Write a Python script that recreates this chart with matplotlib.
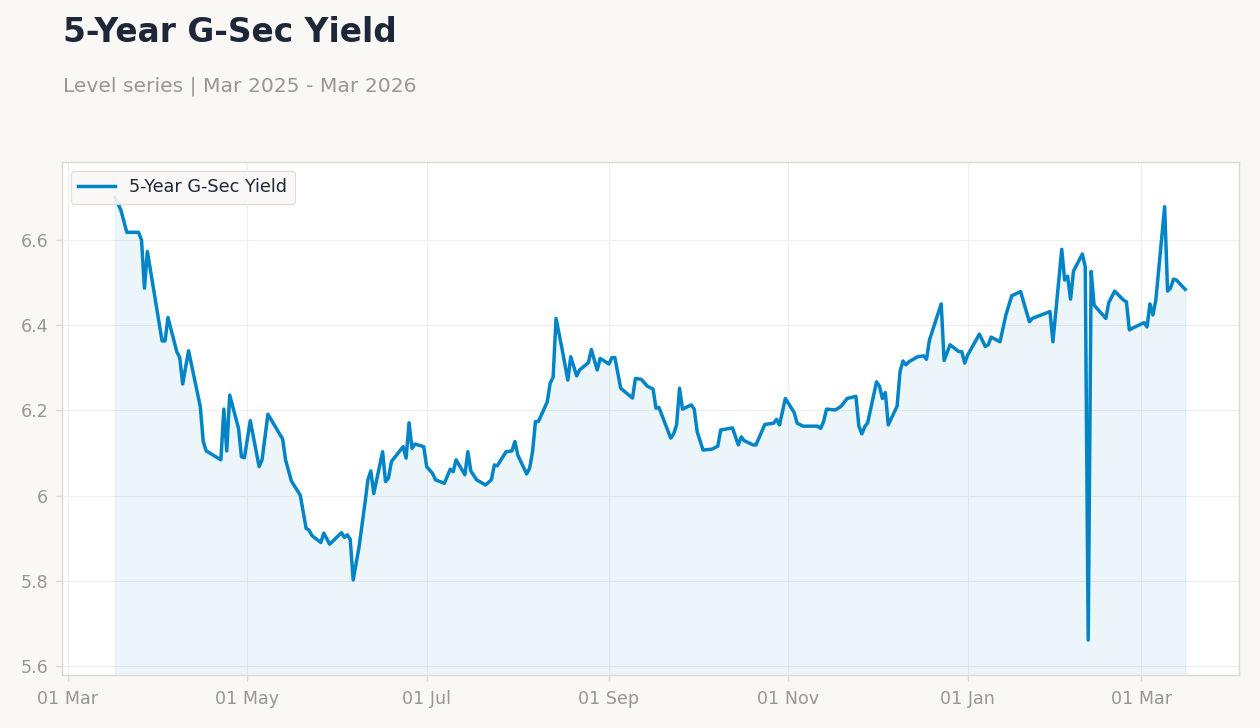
import matplotlib
matplotlib.use("Agg")
import matplotlib.pyplot as plt
import matplotlib.dates as mdates
from matplotlib.ticker import FuncFormatter, FixedLocator
import pandas as pd

title = "5-Year G-Sec Yield"
subtitle = "Level series | Mar 2025 - Mar 2026"
series_name = "5-Year G-Sec Yield"

dates = [
    "2025-03-17", "2025-03-19", "2025-03-21", "2025-03-25", "2025-03-26", "2025-03-27", "2025-03-28",
    "2025-04-02", "2025-04-03", "2025-04-04", "2025-04-07", "2025-04-08", "2025-04-09", "2025-04-11",
    "2025-04-15", "2025-04-16", "2025-04-17", "2025-04-22", "2025-04-23", "2025-04-24", "2025-04-25",
    "2025-04-28", "2025-04-29", "2025-04-30", "2025-05-02", "2025-05-05", "2025-05-06", "2025-05-08",
    "2025-05-13", "2025-05-14", "2025-05-16", "2025-05-19", "2025-05-21", "2025-05-22", "2025-05-23",
    "2025-05-26", "2025-05-27", "2025-05-29", "2025-06-02", "2025-06-03", "2025-06-04", "2025-06-05",
    "2025-06-06", "2025-06-08", "2025-06-10", "2025-06-11", "2025-06-12", "2025-06-13", "2025-06-16",
    "2025-06-17", "2025-06-18", "2025-06-19", "2025-06-23", "2025-06-24", "2025-06-25", "2025-06-26",
    "2025-06-27", "2025-06-30", "2025-07-01", "2025-07-03", "2025-07-04", "2025-07-07", "2025-07-09",
    "2025-07-10", "2025-07-11", "2025-07-14", "2025-07-15", "2025-07-16", "2025-07-18", "2025-07-21",
    "2025-07-23", "2025-07-24", "2025-07-25", "2025-07-28", "2025-07-30", "2025-07-31", "2025-08-01",
    "2025-08-04", "2025-08-05", "2025-08-06", "2025-08-07", "2025-08-08", "2025-08-11", "2025-08-12",
    "2025-08-13", "2025-08-14", "2025-08-16", "2025-08-18", "2025-08-19", "2025-08-21", "2025-08-22",
    "2025-08-25", "2025-08-26", "2025-08-28", "2025-08-29", "2025-09-01", "2025-09-02", "2025-09-03",
    "2025-09-05", "2025-09-09", "2025-09-10", "2025-09-12", "2025-09-14", "2025-09-16", "2025-09-17",
    "2025-09-18", "2025-09-22", "2025-09-23", "2025-09-24", "2025-09-25", "2025-09-26", "2025-09-29",
    "2025-09-30", "2025-10-01", "2025-10-03", "2025-10-06", "2025-10-08", "2025-10-09", "2025-10-13",
    "2025-10-15", "2025-10-16", "2025-10-17", "2025-10-20", "2025-10-21", "2025-10-24", "2025-10-27",
    "2025-10-28", "2025-10-29", "2025-10-31", "2025-11-03", "2025-11-04", "2025-11-06", "2025-11-11",
    "2025-11-12", "2025-11-13", "2025-11-14", "2025-11-17", "2025-11-19", "2025-11-21", "2025-11-24",
    "2025-11-25", "2025-11-26", "2025-11-27", "2025-11-28", "2025-12-01", "2025-12-02", "2025-12-03",
    "2025-12-04", "2025-12-05", "2025-12-08", "2025-12-09", "2025-12-10", "2025-12-11", "2025-12-12",
    "2025-12-15", "2025-12-17", "2025-12-18", "2025-12-19", "2025-12-23", "2025-12-24", "2025-12-26",
    "2025-12-29", "2025-12-30", "2025-12-31", "2026-01-01", "2026-01-05", "2026-01-07", "2026-01-08",
    "2026-01-09", "2026-01-12", "2026-01-14", "2026-01-16", "2026-01-19", "2026-01-20", "2026-01-22",
    "2026-01-23", "2026-01-29", "2026-01-30", "2026-02-02", "2026-02-03", "2026-02-04", "2026-02-05",
    "2026-02-06", "2026-02-09", "2026-02-10", "2026-02-11", "2026-02-12", "2026-02-13", "2026-02-17",
    "2026-02-18", "2026-02-20", "2026-02-23", "2026-02-24", "2026-02-25", "2026-02-26", "2026-03-02",
    "2026-03-03", "2026-03-04", "2026-03-05", "2026-03-06", "2026-03-09", "2026-03-10", "2026-03-11",
    "2026-03-12", "2026-03-13", "2026-03-16",
]

yields = [
    6.700, 6.670, 6.618, 6.618, 6.600, 6.487, 6.573,
    6.363, 6.363, 6.418, 6.338, 6.324, 6.262, 6.340,
    6.209, 6.127, 6.105, 6.084, 6.203, 6.105, 6.236,
    6.158, 6.091, 6.089, 6.176, 6.068, 6.084, 6.191,
    6.133, 6.084, 6.034, 6.001, 5.923, 5.919, 5.906,
    5.890, 5.912, 5.886, 5.913, 5.902, 5.908, 5.897,
    5.802, 5.880, 5.982, 6.037, 6.058, 6.005, 6.103,
    6.033, 6.041, 6.080, 6.115, 6.088, 6.171, 6.111,
    6.121, 6.115, 6.068, 6.052, 6.037, 6.029, 6.062,
    6.056, 6.084, 6.049, 6.103, 6.058, 6.037, 6.025,
    6.037, 6.072, 6.070, 6.103, 6.105, 6.127, 6.095,
    6.051, 6.064, 6.103, 6.174, 6.174, 6.220, 6.264,
    6.278, 6.416, 6.346, 6.271, 6.326, 6.281, 6.295,
    6.312, 6.343, 6.295, 6.322, 6.309, 6.324, 6.324,
    6.252, 6.229, 6.275, 6.273, 6.257, 6.250, 6.205,
    6.207, 6.135, 6.145, 6.166, 6.252, 6.203, 6.213,
    6.203, 6.150, 6.107, 6.109, 6.116, 6.154, 6.159,
    6.119, 6.138, 6.129, 6.119, 6.119, 6.167, 6.170,
    6.179, 6.166, 6.228, 6.195, 6.170, 6.163, 6.163,
    6.158, 6.174, 6.203, 6.201, 6.210, 6.228, 6.233,
    6.163, 6.145, 6.162, 6.171, 6.267, 6.257, 6.228,
    6.242, 6.166, 6.210, 6.291, 6.316, 6.307, 6.314,
    6.326, 6.328, 6.320, 6.365, 6.450, 6.317, 6.354,
    6.338, 6.338, 6.311, 6.330, 6.379, 6.350, 6.354,
    6.372, 6.361, 6.424, 6.469, 6.479, 6.455, 6.408,
    6.416, 6.432, 6.361, 6.578, 6.506, 6.515, 6.461,
    6.527, 6.567, 6.537, 5.661, 6.526, 6.447, 6.416,
    6.453, 6.480, 6.459, 6.455, 6.389, 6.393, 6.406,
    6.396, 6.450, 6.424, 6.459, 6.678, 6.480, 6.487,
    6.508, 6.506, 6.484,
]

x_ticks = ["2025-03-01", "2025-05-01", "2025-07-01", "2025-09-01", "2025-11-01", "2026-01-01", "2026-03-01"]
y_ticks = [5.6, 5.8, 6.0, 6.2, 6.4, 6.6]

LINE = "#0284C7"
BG = "#F9F8F5"
TXT = "#1E2738"
MUTED = "#9A9690"
EDGE = "#DDD8D0"
GRID = "#EFEFEF"

plt.rcParams['font.family'] = ['DejaVu Sans']

fig = plt.figure(figsize=(12.6, 7.28), dpi=100, facecolor=BG)
ax = fig.add_axes([62 / 1260, 1 - 675 / 728, (1239 - 62) / 1260, (675 - 162) / 728])
ax.set_facecolor("white")

x = pd.to_datetime(dates)
ymin, ymax = 5.579, 6.783

ax.fill_between(x, yields, ymin - 0.1, color=LINE, alpha=0.08, linewidth=1, zorder=1)
ax.plot(x, yields, color=LINE, linewidth=2.5, label=series_name, zorder=3)

ax.set_ylim(ymin, ymax)
ax.set_xlim(pd.Timestamp("2025-02-26 23:00"), pd.Timestamp("2026-04-03 07:00"))

ax.xaxis.set_major_locator(FixedLocator(mdates.date2num(pd.to_datetime(x_ticks))))
ax.xaxis.set_major_formatter(mdates.DateFormatter("%d %b"))
ax.yaxis.set_major_locator(FixedLocator(y_ticks))
ax.yaxis.set_major_formatter(FuncFormatter(lambda v, p: f"{v:g}"))

ax.grid(True, color=GRID, linewidth=0.8, zorder=0)
ax.set_axisbelow(True)
for s in ax.spines.values():
    s.set_color(EDGE)
    s.set_linewidth(1.0)

ax.tick_params(axis="both", colors=EDGE, labelcolor=MUTED, labelsize=12.6, length=4, width=1)
ax.tick_params(axis="x", pad=7)
ax.tick_params(axis="y", pad=6)

leg = ax.legend(loc="upper left", fontsize=12.7, frameon=True, facecolor=BG, edgecolor=EDGE,
                framealpha=0.9, handlelength=2.1, borderpad=0.42, bbox_to_anchor=(0.0, 1.0))
for t in leg.get_texts():
    t.set_color(TXT)
leg.get_frame().set_linewidth(0.8)

fig.text(63 / 1260, 1 - 42 / 728, title, fontsize=23.7, fontweight="bold", color=TXT, va="baseline", ha="left")
fig.text(63 / 1260, 1 - 92 / 728, subtitle, fontsize=14.6, color=MUTED, va="baseline", ha="left")

fig.savefig("out.png", dpi=100, facecolor=BG)
